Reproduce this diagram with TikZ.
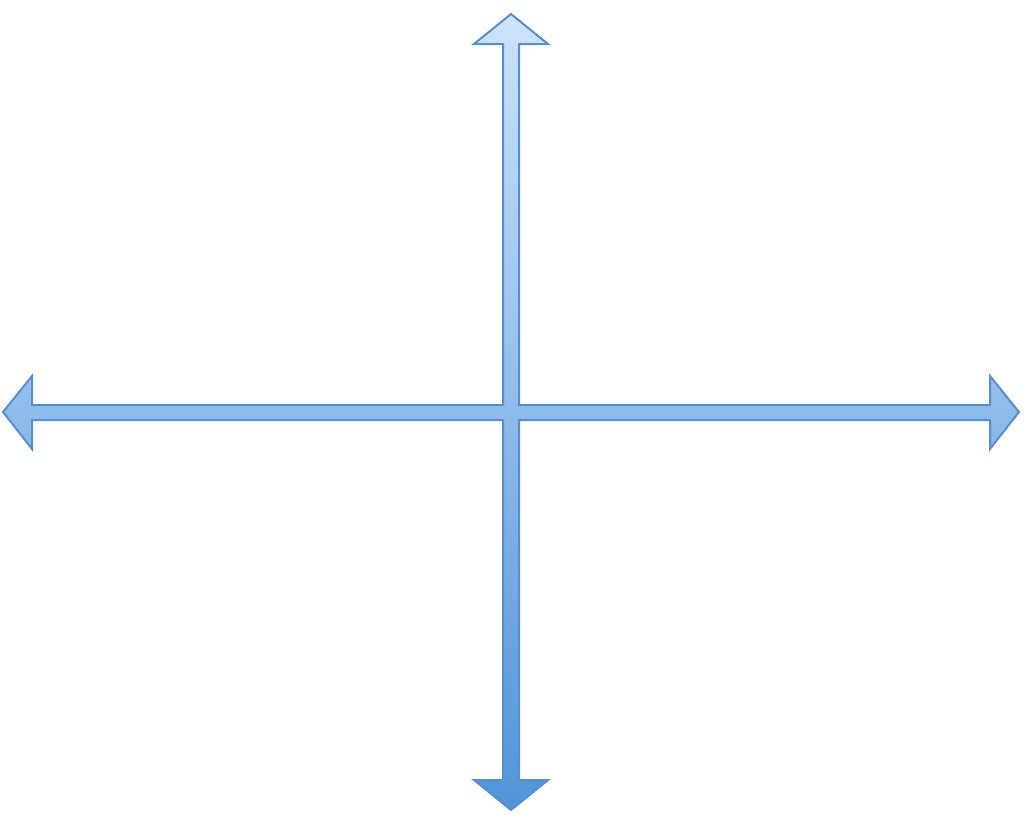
\documentclass[tikz,border=0pt]{standalone}
\definecolor{arrtop}{RGB}{204,227,251}
\definecolor{arrbot}{RGB}{80,148,216}
\definecolor{arredge}{RGB}{91,142,201}
\tikzset{crossarrow/.style={draw=arredge, line width=2pt, line join=miter, top color=arrtop, bottom color=arrbot}}
\begin{document}
\begin{tikzpicture}[x=1pt,y=-1pt]
\useasboundingbox (0,0) rectangle (1024,825);
\shade[crossarrow]
  (511,14) -- (548,44) -- (519,44) -- (519,405) -- (990,405) -- (990,376) -- (1019,412)
  -- (990,449) -- (990,420) -- (519,420) -- (519,780) -- (548,780) -- (511,810)
  -- (474,780) -- (503,780) -- (503,420) -- (32,420) -- (32,449) -- (3,412)
  -- (32,376) -- (32,405) -- (503,405) -- (503,44) -- (474,44) -- cycle;
\end{tikzpicture}
\end{document}
